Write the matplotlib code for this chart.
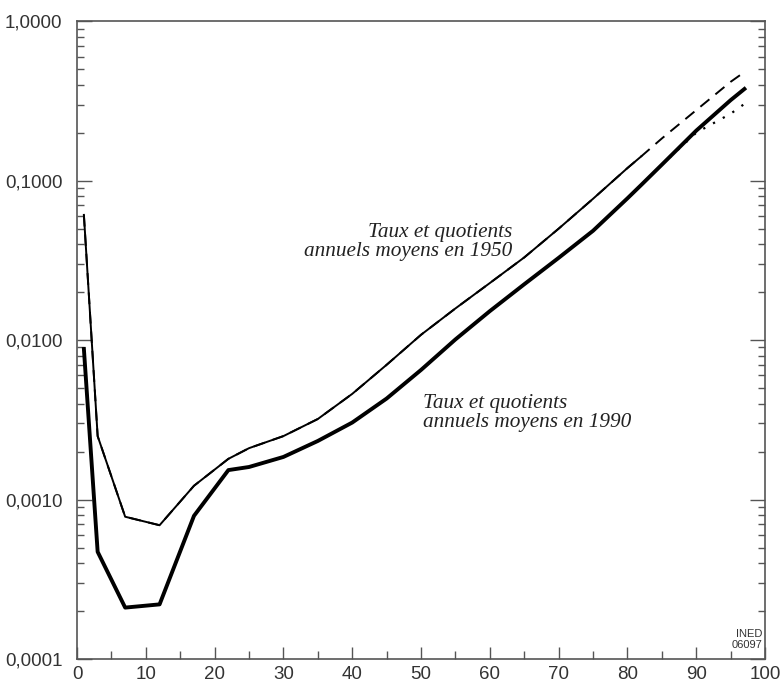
import numpy as np
import matplotlib
matplotlib.use("Agg")
import matplotlib.pyplot as plt
from matplotlib.ticker import FixedLocator, NullFormatter

# ages (years)
ages = [1, 3, 7, 12, 17, 22, 25, 30, 35, 40, 45, 50, 55, 60, 65, 70, 75, 80, 82,
        85, 90, 95, 97]

# 1950 : quotients (solid, stop at 82) and rates (dashed, to 97)
q1950 = [0.061, 0.0025, 0.00078, 0.00069, 0.00122, 0.0018, 0.0021, 0.0025,
         0.0032, 0.0046, 0.0070, 0.0108, 0.0158, 0.0228, 0.0330, 0.050, 0.077,
         0.120, 0.142]
t1950 = q1950 + [0.184, 0.277, 0.417, 0.48]

# 1990 : rates (thick) and quotients (dotted at the end)
t1990 = [0.0088, 0.00047, 0.00021, 0.00022, 0.00079, 0.00153, 0.0016, 0.00185,
         0.00233, 0.00304, 0.0043, 0.0065, 0.0101, 0.0152, 0.0224, 0.0328,
         0.0485, 0.0775, 0.094, 0.126, 0.206, 0.32, 0.376]
q1990 = t1990[:20] + [0.200, 0.263, 0.303]

fig = plt.figure(figsize=(7.81, 6.85), dpi=100)
ax = fig.add_axes([0.0986, 0.038, 0.881, 0.931])

ax.plot(ages, t1950, color="black", lw=1.4, ls=(0, (6, 4)))
ax.plot(ages[:len(q1950)], q1950, color="black", lw=1.4)
ax.plot(ages, q1990, color="black", lw=1.6, ls=(0, (1, 4)))
ax.plot(ages, t1990, color="black", lw=2.8)

ax.set_yscale("log")
ax.set_xlim(0, 100)
ax.set_ylim(0.0001, 1.0)

ax.yaxis.set_major_locator(FixedLocator([0.0001, 0.001, 0.01, 0.1, 1.0]))
ax.set_yticklabels(["0,0001", "0,0010", "0,0100", "0,1000", "1,0000"])
minors = [m * 10.0 ** e for e in range(-4, 0) for m in range(2, 10)]
ax.yaxis.set_minor_locator(FixedLocator(minors))
ax.yaxis.set_minor_formatter(NullFormatter())
ax.xaxis.set_major_locator(FixedLocator(np.arange(0, 101, 10)))
ax.xaxis.set_minor_locator(FixedLocator(np.arange(5, 100, 10)))

ax.tick_params(axis="y", which="major", direction="in", length=11, width=1,
               color="#555555", left=True, right=True, labelsize=13.5, pad=10.5)
ax.tick_params(axis="y", which="minor", direction="in", length=5, width=1,
               color="#555555", left=True, right=True)
ax.tick_params(axis="x", which="major", direction="in", length=8.5, width=1,
               color="#555555", top=False, labelsize=13.5, pad=5)
ax.tick_params(axis="x", which="minor", direction="in", length=6, width=1,
               color="#555555", top=False)
for lab in ax.get_xticklabels() + ax.get_yticklabels():
    lab.set_family("Liberation Sans")
    lab.set_color("#333333")
for s in ax.spines.values():
    s.set_color("#555555")
    s.set_linewidth(1.2)

ax.text(0.633, 0.654, "Taux et quotients\nannuels moyens en 1950",
        transform=ax.transAxes, ha="right", va="center", family="Liberation Serif",
        style="italic", fontsize=15.3, color="#222222", linespacing=1.0)
ax.text(0.503, 0.385, "Taux et quotients\nannuels moyens en 1990",
        transform=ax.transAxes, ha="left", va="center", family="Liberation Serif",
        style="italic", fontsize=15.3, color="#222222", linespacing=1.0)
ax.text(0.9956, 0.014, "INED\n06097", transform=ax.transAxes, ha="right",
        va="bottom", family="Liberation Sans", fontsize=8, color="#333333",
        linespacing=1.15)

fig.savefig("out.png", dpi=100)
